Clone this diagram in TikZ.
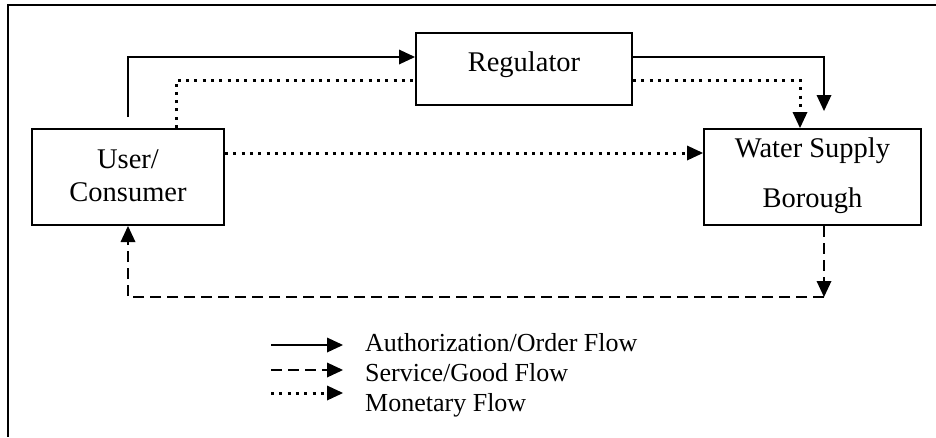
\documentclass[tikz,border=0pt]{standalone}
\usepackage{fontspec}
\setmainfont{Liberation Serif}
\usetikzlibrary{arrows.meta}
\begin{document}
\begin{tikzpicture}[x=1pt,y=-1pt,
  box/.style={draw, line width=2pt, inner sep=0pt},
  lbl/.style={font=\fontsize{28.5}{33}\selectfont, anchor=base, inner sep=0pt},
  leg/.style={font=\fontsize{26}{30}\selectfont, anchor=base west, inner sep=0pt},
  tip/.style={-{Triangle[length=16pt,width=15pt,line width=0pt]}},
  solidflow/.style={line width=2pt},
  dashflow/.style={line width=2pt, dash pattern=on 11pt off 6pt},
  dotflow/.style={line width=3pt, dash pattern=on 3pt off 5.3pt},
]
\useasboundingbox (0,0) rectangle (936,437);
% frame
\draw[line width=2.5pt] (936,5) -- (8,5) -- (8,437);

% boxes
\node[box, minimum width=192pt, minimum height=96pt] (user) at (128,177) {};
\node[box, minimum width=216pt, minimum height=72pt] (reg) at (524,69) {};
\node[box, minimum width=217pt, minimum height=96pt] (wat) at (812.5,177) {};

% box texts
\node[lbl] (userA) at (128,168) {User/};
\node[lbl] (userB) at (128,201) {Consumer};
\node[lbl] (regT) at (524,71) {Regulator};
\node[lbl] (watA) at (812.5,157) {Water Supply};
\node[lbl] (watB) at (812.5,207) {Borough};

% authorization flows
\draw[solidflow, tip] ([yshift=11pt]user.north) |- ([yshift=12pt]reg.west);
\draw[solidflow, tip] ([yshift=12pt]reg.east) -| ([xshift=11.5pt,yshift=17pt]wat.north);

% monetary flows
\draw[dotflow] ([xshift=48pt]user.north) |- ([yshift=-11pt]reg.west);
\draw[dotflow, tip] ([yshift=-11pt]reg.east) -| ([xshift=-12.5pt]wat.north);
\draw[dotflow, tip] ([yshift=24pt]user.east) -- ([yshift=24pt]wat.west);

% service flow
\coordinate (sc) at (824,297);
\draw[dashflow, tip] ([xshift=11.5pt]wat.south) -- (sc);
\draw[dashflow, tip] (sc) -| (user.south);

% legend
\coordinate (l1a) at (271,345); \coordinate (l1b) at (343,345);
\coordinate (l2a) at (271,370); \coordinate (l2b) at (343,370);
\coordinate (l3a) at (271,393); \coordinate (l3b) at (343,393);
\draw[solidflow, tip] (l1a) -- (l1b);
\draw[dashflow, tip] (l2a) -- (l2b);
\draw[dotflow, tip] (l3a) -- (l3b);
\node[leg] (t1) at (365,351) {Authorization/Order Flow};
\node[leg] (t2) at (365,381) {Service/Good Flow};
\node[leg] (t3) at (365,411) {Monetary Flow};
\end{tikzpicture}
\end{document}
